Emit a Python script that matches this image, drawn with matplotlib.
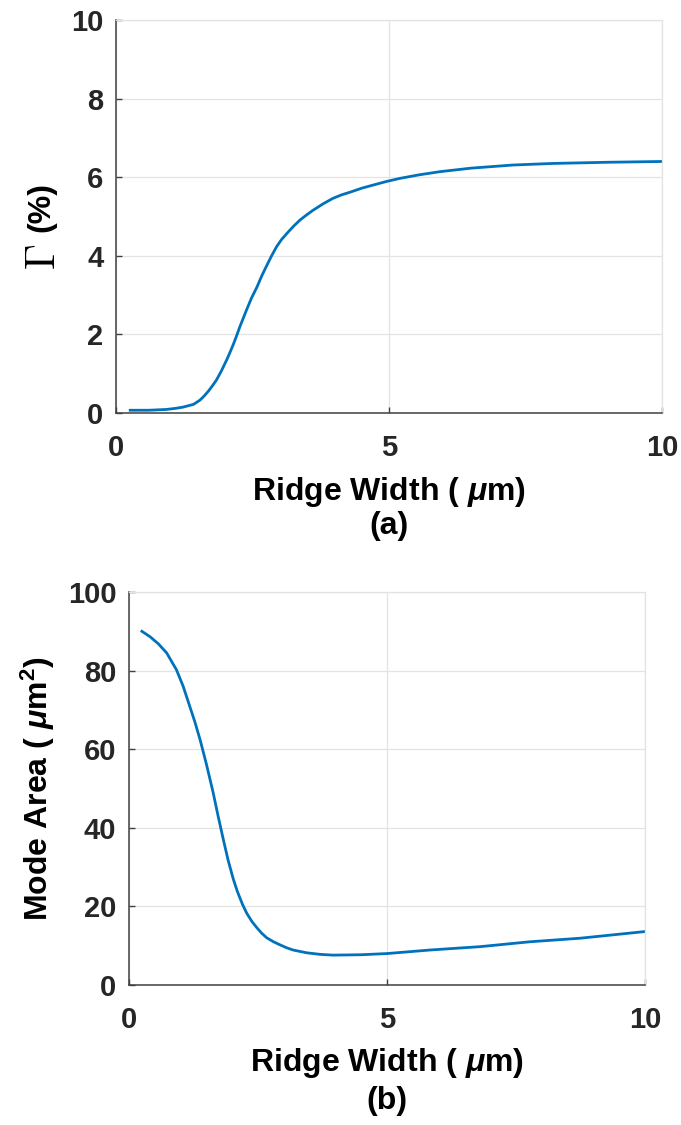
import matplotlib
matplotlib.use('Agg')
import matplotlib.pyplot as plt

# values
width_a = [0.26, 0.6, 0.92, 1.1, 1.23, 1.42, 1.54, 1.62, 1.7, 1.77, 1.84, 1.93, 2.03, 2.09, 2.15,
           2.21, 2.27, 2.33, 2.39, 2.48, 2.58, 2.67, 2.76, 2.85, 2.94, 3.03, 3.13, 3.25, 3.37,
           3.49, 3.61, 3.79, 3.97, 4.13, 4.29, 4.5, 4.71, 4.95, 5.2, 5.55, 5.93, 6.5, 7.27,
           8.0, 9.0, 10.0]
gamma = [0.07, 0.07, 0.09, 0.12, 0.15, 0.22, 0.33, 0.44, 0.57, 0.7, 0.84, 1.07, 1.36, 1.55, 1.75,
         1.97, 2.2, 2.41, 2.62, 2.92, 3.2, 3.49, 3.75, 4.0, 4.23, 4.41, 4.57, 4.75, 4.91,
         5.04, 5.16, 5.32, 5.46, 5.55, 5.62, 5.72, 5.80, 5.89, 5.97, 6.06, 6.14, 6.23, 6.31,
         6.35, 6.38, 6.40]

width_b = [0.25, 0.41, 0.57, 0.73, 0.92, 1.05, 1.18, 1.28, 1.38, 1.50, 1.63, 1.73, 1.83, 1.92,
           2.02, 2.1, 2.2, 2.28, 2.38, 2.47, 2.57, 2.67, 2.8, 2.93, 3.05, 3.18, 3.44, 3.7, 3.95,
           4.5, 5.0, 5.83, 6.8, 7.77, 8.74, 10.0]
mode_area = [90, 88.6, 86.8, 84.5, 80.2, 76, 70.8, 66.8, 62.3, 56.2, 49.0, 42.8, 36.9, 31.8,
             27.0, 23.8, 20.5, 18.3, 16.2, 14.7, 13.2, 12.0, 11.0, 10.2, 9.5, 8.9, 8.2, 7.8, 7.6,
             7.7, 8.0, 8.9, 9.75, 11.0, 11.9, 13.6]

xticks = [0, 5, 10]
yticks_a = [0, 2, 4, 6, 8, 10]
yticks_b = [0, 20, 40, 60, 80, 100]

plt.rcParams['font.family'] = 'Liberation Sans'
plt.rcParams['font.weight'] = 'bold'
plt.rcParams['mathtext.fontset'] = 'custom'
plt.rcParams['mathtext.rm'] = 'Liberation Sans:bold'
plt.rcParams['mathtext.bf'] = 'Liberation Sans:bold'
plt.rcParams['mathtext.it'] = 'Liberation Sans:italic'

blue = '#0072BD'
dark = '#404040'
light = '#e3e3e3'

fig = plt.figure(figsize=(6.81, 11.25), dpi=100)
ax1 = fig.add_axes([116/681, 1-413/1125, 546/681, 393/1125])
ax2 = fig.add_axes([129/681, 1-985/1125, 516/681, 393/1125])


def style(ax, yticks):
	ax.set_xlim(0, 10)
	ax.set_ylim(yticks[0], yticks[-1])
	ax.set_xticks(xticks)
	ax.set_yticks(yticks)
	ax.grid(True, color=light, linewidth=0.9)
	ax.set_axisbelow(True)
	for s in ['top', 'right']:
		ax.spines[s].set_color(light)
		ax.spines[s].set_linewidth(0.9)
	for s in ['left', 'bottom']:
		ax.spines[s].set_color(dark)
		ax.spines[s].set_linewidth(1.1)
	ax.tick_params(direction='in', length=4, width=1, color=dark,
	               labelsize=21, labelcolor='#262626')
	ax.tick_params(axis='x', pad=15)
	ax.tick_params(axis='y', pad=9)
	for lab in ax.get_xticklabels() + ax.get_yticklabels():
		lab.set_fontweight('bold')


style(ax1, yticks_a)
style(ax2, yticks_b)

ax1.plot(width_a, gamma, color=blue, linewidth=2.0, solid_joinstyle='round')
ax2.plot(width_b, mode_area, color=blue, linewidth=2.0, solid_joinstyle='round')

# x labels and panel captions
for ax, cap, ylab, ycap in [(ax1, '(a)', -0.201, -0.287), (ax2, '(b)', -0.198, -0.296)]:
	ax.set_xlabel(r'Ridge Width ( $\mu$m)', fontsize=23, fontweight='bold', va='center')
	ax.xaxis.set_label_coords(0.5, ylab)
	ax.text(0.5, ycap, cap, transform=ax.transAxes, ha='center', va='center',
	        fontsize=23, fontweight='bold')

# y label of (a): serif Gamma plus bold (%)
ax1.text(-0.132, 0.397, r'$\Gamma$', transform=ax1.transAxes, rotation=90,
         ha='center', va='center', fontsize=30, math_fontfamily='cm')
ax1.text(-0.136, 0.525, '(%)', transform=ax1.transAxes, rotation=90,
         ha='center', va='center', fontsize=23, fontweight='bold')

ax2.set_ylabel(r'Mode Area ( $\mu$m$^{\mathbf{2}}$)', fontsize=23, fontweight='bold', va='center')
ax2.yaxis.set_label_coords(-0.176, 0.5)

fig.savefig('out.png', dpi=100)
